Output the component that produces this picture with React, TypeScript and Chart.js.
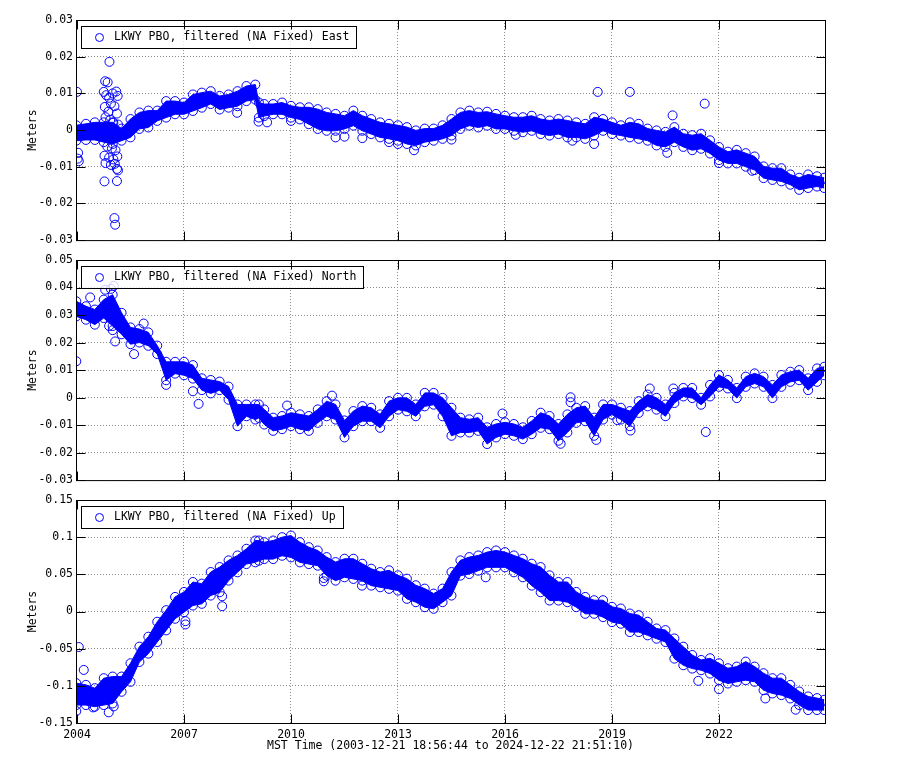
import React, { useEffect, useRef } from "react";
import { Chart, registerables } from "chart.js";

Chart.register(...registerables);

// ---------------- data ----------------
const X_MIN = 2003.972; // 2003-12-21 18:56:44
const X_MAX = 2024.973; // 2024-12-22 21:51:10
const X_TICKS = [2004, 2007, 2010, 2013, 2016, 2019, 2022];
const X_TITLE = "MST Time (2003-12-21 18:56:44 to 2024-12-22 21:51:10)";
const Y_TITLE = "Meters";

const YEARS = [
  2003.98, 2004.25, 2004.5, 2004.75, 2005.0, 2005.25, 2005.5, 2005.75,
  2006.0, 2006.25, 2006.5, 2006.75, 2007.0, 2007.25, 2007.5, 2007.75,
  2008.0, 2008.25, 2008.5, 2008.75, 2009.0, 2009.1, 2009.25, 2009.5, 2009.75,
  2010.0, 2010.25, 2010.5, 2010.75, 2011.0, 2011.25, 2011.5, 2011.75,
  2012.0, 2012.25, 2012.5, 2012.75, 2013.0, 2013.25, 2013.5, 2013.75,
  2014.0, 2014.25, 2014.5, 2014.75, 2015.0, 2015.25, 2015.5, 2015.75,
  2016.0, 2016.25, 2016.5, 2016.75, 2017.0, 2017.25, 2017.5, 2017.75,
  2018.0, 2018.25, 2018.5, 2018.75, 2019.0, 2019.25, 2019.5, 2019.75,
  2020.0, 2020.25, 2020.5, 2020.75, 2021.0, 2021.25, 2021.5, 2021.75,
  2022.0, 2022.25, 2022.5, 2022.75, 2023.0, 2023.25, 2023.5, 2023.75,
  2024.0, 2024.25, 2024.5, 2024.75, 2024.95,
];

// East: upper / lower edge of the dense band (m)
const EAST_HI = [
  0.0013, 0.0017, 0.0021, 0.0021, 0.0021, 0.0004, 0.003, 0.0048,
  0.0053, 0.0053, 0.0079, 0.0079, 0.0075, 0.0097, 0.0102, 0.0106,
  0.0093, 0.0097, 0.0106, 0.012, 0.0124, 0.0075, 0.0071, 0.0071, 0.0075,
  0.0066, 0.0062, 0.0062, 0.0057, 0.0048, 0.0044, 0.0039, 0.0053,
  0.0039, 0.003, 0.0021, 0.0017, 0.0013, 0.0008, -0.0001, 0.0004,
  0.0004, 0.0013, 0.003, 0.0048, 0.0053, 0.0048, 0.005, 0.0044,
  0.0039, 0.0035, 0.0035, 0.0039, 0.003, 0.0026, 0.003, 0.0026,
  0.0021, 0.0017, 0.0035, 0.003, 0.0021, 0.0013, 0.0021, 0.0017,
  0.0004, -0.0001, -0.0005, 0.0008, -0.001, -0.0014, -0.001, -0.0028,
  -0.0046, -0.0059, -0.0054, -0.0063, -0.0072, -0.0099, -0.0104, -0.0104,
  -0.0121, -0.013, -0.0121, -0.0126, -0.013,
];
const EAST_LO = [
  -0.0029, -0.0027, -0.0027, -0.0033, -0.0038, -0.0029, -0.002, 0.0003,
  0.0007, 0.0025, 0.0034, 0.0043, 0.0043, 0.0052, 0.0061, 0.0071,
  0.0056, 0.0061, 0.0065, 0.0079, 0.0083, 0.0034, 0.0038, 0.0043, 0.0043,
  0.0034, 0.0029, 0.0016, 0.0003, -0.0002, -0.0002, 0.0003, 0.0012,
  -0.0002, -0.0011, -0.002, -0.0024, -0.0029, -0.0038, -0.0042, -0.0033,
  -0.0029, -0.0024, -0.0015, 0.0003, 0.0012, 0.0007, 0.0012, 0.0003,
  0.0003, -0.0002, -0.0006, -0.0002, -0.0011, -0.0015, -0.0011, -0.002,
  -0.002, -0.0024, -0.0015, -0.0002, -0.0011, -0.0015, -0.002, -0.0024,
  -0.0029, -0.0042, -0.0046, -0.0033, -0.0046, -0.0055, -0.0051, -0.0064,
  -0.0082, -0.0091, -0.0091, -0.01, -0.0109, -0.0131, -0.0136, -0.014,
  -0.0149, -0.0163, -0.0158, -0.0154, -0.0158,
];
const EAST_OUT_T = [
  2004.0, 2004.03, 2004.02, 2004.05, 2004.91, 2004.79, 2004.86, 2004.75, 2004.82,
  2004.9, 2005.0, 2005.1, 2005.14, 2004.95, 2005.05, 2004.78, 2004.88, 2005.12,
  2004.8, 2004.93, 2005.02, 2005.15, 2004.85, 2004.98, 2005.08, 2004.77, 2004.9,
  2005.02, 2005.13, 2004.8, 2004.95, 2005.06, 2005.12, 2005.15, 2004.77, 2005.12,
  2005.05, 2005.07, 2008.49, 2009.09, 2009.33, 2010.0, 2011.25, 2011.5, 2012.0,
  2012.75, 2013.0, 2013.45, 2014.5, 2016.3, 2017.89, 2018.5, 2018.6, 2019.5,
  2020.55, 2020.7, 2021.6, 2022.0, 2022.93,
];
const EAST_OUT_V = [
  0.0104, -0.0062, -0.0078, -0.0085, 0.0186, 0.0133, 0.013, 0.0104, 0.0095,
  0.0088, 0.01, 0.0105, 0.0093, 0.0072, 0.0065, 0.0063, 0.005, 0.0045,
  0.0035, 0.0028, 0.002, 0.0015, -0.0045, -0.005, -0.0055, -0.007, -0.0075,
  -0.008, -0.0072, -0.009, -0.0095, -0.0092, -0.0106, -0.011, -0.014, -0.0139,
  -0.024, -0.0258, 0.0047, 0.0023, 0.0021, 0.0025, -0.002, -0.0018, -0.0022,
  -0.0033, -0.0038, -0.0055, -0.0026, -0.0013, -0.0029, -0.0038, 0.0104, 0.0104,
  -0.0062, 0.004, 0.0072, -0.009, -0.0111,
];

// North
const NORTH_HI = [
  0.035, 0.0332, 0.032, 0.0356, 0.0374, 0.0308, 0.0255, 0.0249,
  0.0237, 0.0189, 0.013, 0.013, 0.013, 0.0118, 0.007, 0.0064,
  0.0058, 0.004, -0.0025, -0.0025, -0.0025, -0.0025, -0.0043, -0.0073, -0.0067,
  -0.0055, -0.0061, -0.0067, -0.0043, -0.0013, -0.0025, -0.0083, -0.0049,
  -0.0031, -0.0037, -0.0061, -0.0013, -0.0001, -0.0001, -0.0025, 0.0017,
  0.0017, -0.0001, -0.0037, -0.0073, -0.0079, -0.0073, -0.0108, -0.0096,
  -0.009, -0.0096, -0.0108, -0.0085, -0.0055, -0.0067, -0.0096, -0.0061,
  -0.0037, -0.0031, -0.0073, -0.0025, -0.0025, -0.0037, -0.0049, -0.0013,
  0.0011, -0.0001, -0.0025, 0.0017, 0.0035, 0.0035, -0.0001, 0.0046,
  0.0082, 0.0064, 0.0035, 0.0076, 0.0088, 0.0076, 0.0046, 0.0082,
  0.0094, 0.01, 0.007, 0.0106, 0.0112,
];
const NORTH_LO = [
  0.0295, 0.0283, 0.0265, 0.0289, 0.026, 0.023, 0.0194, 0.02,
  0.0188, 0.0158, 0.0063, 0.0087, 0.0081, 0.0069, 0.0027, 0.0015,
  0.0027, -0.0008, -0.0104, -0.0068, -0.008, -0.0074, -0.0098, -0.0121, -0.0115,
  -0.0104, -0.0115, -0.0121, -0.0092, -0.0068, -0.008, -0.0145, -0.0104,
  -0.0086, -0.0086, -0.011, -0.0068, -0.0044, -0.005, -0.0068, -0.0032,
  -0.0026, -0.0068, -0.0139, -0.0127, -0.0127, -0.0121, -0.0169, -0.0145,
  -0.0133, -0.0139, -0.0151, -0.0133, -0.011, -0.0115, -0.0157, -0.0127,
  -0.0092, -0.0086, -0.0139, -0.008, -0.0062, -0.008, -0.0104, -0.0056,
  -0.0032, -0.0044, -0.0068, -0.002, 0.0004, -0.0002, -0.0026, 0.0004,
  0.0039, 0.0033, -0.0002, 0.0039, 0.0051, 0.0039, -0.0002, 0.0039,
  0.0057, 0.0063, 0.0027, 0.0057, 0.0081,
];
const NORTH_OUT_T = [
  2003.98, 2004.37, 2004.79, 2005.03, 2004.95, 2005.07, 2005.0, 2004.9, 2005.6,
  2005.87, 2006.5, 2007.25, 2007.41, 2009.89, 2011.15, 2015.93, 2017.56, 2017.84,
  2017.84, 2018.56, 2019.15, 2019.52, 2020.06, 2020.72, 2021.63,
];
const NORTH_OUT_V = [
  0.0132, 0.0364, 0.0392, 0.0406, 0.0395, 0.0204, 0.0245, 0.026, 0.0158,
  0.0269, 0.0046, 0.0023, -0.0023, -0.0029, 0.0007, -0.0058, -0.0168, 0.0001,
  -0.0017, -0.0154, -0.0082, -0.012, 0.0033, 0.0033, -0.0125,
];

// Up
const UP_HI = [
  -0.0964, -0.0987, -0.1031, -0.0897, -0.0875, -0.0875, -0.0696, -0.0473,
  -0.0339, -0.0138, 0.0018, 0.0196, 0.0263, 0.0397, 0.0375, 0.0531,
  0.0598, 0.0688, 0.0754, 0.0844, 0.0955, 0.0955, 0.0933, 0.0955, 0.1,
  0.1022, 0.0933, 0.0866, 0.0821, 0.0732, 0.0665, 0.071, 0.071,
  0.0643, 0.0576, 0.0531, 0.0554, 0.0487, 0.0442, 0.0353, 0.0308,
  0.0241, 0.0308, 0.0531, 0.0688, 0.0732, 0.0754, 0.0799, 0.0821,
  0.0799, 0.0754, 0.071, 0.0643, 0.0598, 0.0487, 0.0397, 0.0397,
  0.0263, 0.0196, 0.0152, 0.0152, 0.0063, 0.004, -0.0027, -0.0049,
  -0.0138, -0.0228, -0.025, -0.0362, -0.0473, -0.0585, -0.0652, -0.0629,
  -0.0696, -0.0763, -0.0741, -0.0674, -0.0741, -0.083, -0.0897, -0.0897,
  -0.0987, -0.1076, -0.1143, -0.1165, -0.1188,
];
const UP_LO = [
  -0.1259, -0.1259, -0.1281, -0.1259, -0.1237, -0.108, -0.0946, -0.0679,
  -0.0567, -0.0411, -0.0254, -0.0098, -0.0009, 0.008, 0.0103, 0.0214,
  0.0259, 0.0415, 0.0527, 0.0638, 0.0661, 0.0683, 0.0705, 0.0705, 0.075,
  0.0728, 0.0661, 0.0638, 0.0616, 0.0482, 0.0415, 0.046, 0.0438,
  0.0415, 0.0348, 0.0326, 0.0304, 0.0281, 0.017, 0.0125, 0.0058,
  0.0036, 0.0125, 0.0214, 0.0482, 0.0504, 0.0549, 0.0594, 0.0594,
  0.0594, 0.0527, 0.046, 0.0348, 0.0259, 0.0147, 0.0147, 0.0125,
  0.0058, -0.0031, -0.0031, -0.0076, -0.0143, -0.0165, -0.0277, -0.0277,
  -0.0321, -0.0366, -0.0411, -0.0634, -0.0723, -0.0768, -0.079, -0.0835,
  -0.0924, -0.0969, -0.0946, -0.0924, -0.0946, -0.1058, -0.1103, -0.1125,
  -0.117, -0.1259, -0.1326, -0.1326, -0.1326,
];
const UP_OUT_T = [
  2004.05, 2004.19, 2004.89, 2003.98, 2004.45, 2005.03, 2007.04, 2007.04, 2008.07,
  2008.07, 2010.92, 2010.92, 2011.99, 2015.46, 2021.42, 2022.0, 2023.3, 2024.15,
];
const UP_OUT_V = [
  -0.0478, -0.0786, -0.1357, -0.134, -0.129, -0.1277, -0.0174, -0.013, 0.0071,
  0.0205, 0.0406, 0.045, 0.0348, 0.046, -0.0933, -0.1045, -0.117, -0.1321,
];

// ---------------- styling ----------------
const FONT_FAMILY = "'DejaVu Sans Mono', monospace";
const FONT_SIZE = 11.5;
const BLUE = "rgb(0,0,255)";
const POINT_R = 4.5;

type PanelCfg = {
  label: string;
  hi: number[];
  lo: number[];
  outT: number[];
  outV: number[];
  yMin: number;
  yMax: number;
  yStep: number;
  top: number;
  height: number;
  padTop: number;
  showX: boolean;
};

const PANELS: PanelCfg[] = [
  { label: "LKWY PBO, filtered (NA Fixed) East", hi: EAST_HI, lo: EAST_LO, outT: EAST_OUT_T, outV: EAST_OUT_V, yMin: -0.03, yMax: 0.03, yStep: 0.01, top: 0, height: 250, padTop: 20, showX: false },
  { label: "LKWY PBO, filtered (NA Fixed) North", hi: NORTH_HI, lo: NORTH_LO, outT: NORTH_OUT_T, outV: NORTH_OUT_V, yMin: -0.03, yMax: 0.05, yStep: 0.01, top: 250, height: 240, padTop: 10, showX: false },
  { label: "LKWY PBO, filtered (NA Fixed) Up", hi: UP_HI, lo: UP_LO, outT: UP_OUT_T, outV: UP_OUT_V, yMin: -0.15, yMax: 0.15, yStep: 0.05, top: 490, height: 290, padTop: 10, showX: true },
];

const legendBoxPlugin = (label: string) => ({
  id: "legendBox",
  afterDatasetsDraw(chart: any) {
    const { ctx, chartArea: a } = chart;
    ctx.save();
    ctx.font = `${FONT_SIZE}px ${FONT_FAMILY}`;
    const x0 = Math.round(a.left + 5);
    const y0 = Math.round(a.top + 6);
    const textX = a.left + 38;
    const w = Math.round(textX + ctx.measureText(label).width + 7 - x0);
    const h = 22;
    ctx.fillStyle = "rgba(255,255,255,0.8)";
    ctx.fillRect(x0, y0, w, h);
    ctx.strokeStyle = "#000";
    ctx.lineWidth = 1;
    ctx.strokeRect(x0 + 0.5, y0 + 0.5, w, h);
    ctx.beginPath();
    ctx.arc(a.left + 23.5, y0 + 11.5, 4, 0, Math.PI * 2);
    ctx.strokeStyle = BLUE;
    ctx.stroke();
    ctx.fillStyle = "#000";
    ctx.textBaseline = "middle";
    ctx.textAlign = "left";
    ctx.fillText(label, textX, y0 + 11.5);
    ctx.restore();
  },
});

const framePlugin = {
  id: "frameTicks",
  afterDraw(chart: any) {
    const { ctx, chartArea: a, scales } = chart;
    ctx.save();
    ctx.strokeStyle = "#000";
    ctx.lineWidth = 1;
    const L = a.left + 0.5, R = a.right + 0.5, T = a.top + 0.5, B = a.bottom + 0.5;
    ctx.strokeRect(L, T, R - L, B - T);
    const len = 9;
    ctx.beginPath();
    scales.x.ticks.forEach((t: any) => {
      const px = Math.round(scales.x.getPixelForValue(t.value)) + 0.5;
      ctx.moveTo(px, B); ctx.lineTo(px, B - len);
      ctx.moveTo(px, T); ctx.lineTo(px, T + len);
    });
    scales.y.ticks.forEach((t: any) => {
      const py = Math.round(scales.y.getPixelForValue(t.value)) + 0.5;
      ctx.moveTo(L, py); ctx.lineTo(L + len, py);
      ctx.moveTo(R, py); ctx.lineTo(R - len, py);
    });
    ctx.stroke();
    ctx.restore();
  },
};

function Panel({ cfg }: { cfg: PanelCfg }) {
  const ref = useRef<HTMLCanvasElement | null>(null);
  useEffect(() => {
    const font = { family: FONT_FAMILY, size: FONT_SIZE };
    const edge = {
      showLine: true,
      borderColor: BLUE,
      borderWidth: 1,
      pointRadius: POINT_R,
      pointStyle: "circle",
      pointBorderColor: BLUE,
      pointBackgroundColor: "rgba(0,0,0,0)",
      pointBorderWidth: 1,
      tension: 0,
      clip: 0,
      order: 2,
    };
    const chart = new Chart(ref.current as HTMLCanvasElement, {
      type: "line",
      data: {
        datasets: [
          { ...edge, label: cfg.label, data: YEARS.map((x, i) => ({ x, y: cfg.hi[i] })), fill: "+1", backgroundColor: BLUE } as any,
          { ...edge, label: "lo", data: YEARS.map((x, i) => ({ x, y: cfg.lo[i] })), fill: false, backgroundColor: BLUE } as any,
          {
            label: "outliers",
            data: cfg.outT.map((x, i) => ({ x, y: cfg.outV[i] })),
            showLine: false,
            pointRadius: POINT_R,
            pointStyle: "circle",
            pointBorderColor: BLUE,
            pointBackgroundColor: "rgba(0,0,0,0)",
            pointBorderWidth: 1,
            clip: 0,
            order: 1,
          } as any,
        ],
      },
      options: {
        animation: false,
        responsive: false,
        maintainAspectRatio: false,
        events: [],
        layout: { padding: { left: 0, right: 75, top: cfg.padTop, bottom: 0 } },
        plugins: { legend: { display: false }, tooltip: { enabled: false } },
        scales: {
          x: {
            type: "linear",
            min: X_MIN,
            max: X_MAX,
            afterBuildTicks: (s: any) => {
              s.ticks = X_TICKS.map((v) => ({ value: v }));
            },
            afterFit: (s: any) => {
              s.height = cfg.showX ? 57 : 7;
            },
            grid: { color: "#8c8c8c", drawTicks: false, lineWidth: 1 },
            border: { display: false, dash: [1, 2] },
            ticks: {
              display: cfg.showX,
              color: "#000",
              font,
              padding: 5,
              maxRotation: 0,
              autoSkip: false,
              callback: (v: any) => String(v),
            },
            title: {
              display: cfg.showX,
              text: X_TITLE,
              color: "#000",
              font,
              padding: { top: 0, bottom: 27 },
            },
          },
          y: {
            type: "linear",
            min: cfg.yMin,
            max: cfg.yMax,
            afterFit: (s: any) => {
              s.width = 76;
            },
            grid: { color: "#8c8c8c", drawTicks: false, lineWidth: 1 },
            border: { display: false, dash: [1, 2] },
            ticks: {
              stepSize: cfg.yStep,
              color: "#000",
              font,
              padding: 3,
              callback: (v: any) => String(Number(Number(v).toFixed(3))),
            },
            title: {
              display: true,
              text: Y_TITLE,
              color: "#000",
              font,
              padding: { top: 26.5, bottom: 0 },
            },
          },
        },
      } as any,
      plugins: [legendBoxPlugin(cfg.label), framePlugin],
    });
    return () => chart.destroy();
  }, [cfg]);
  return (
    <canvas
      ref={ref}
      width={900}
      height={cfg.height}
      style={{ position: "absolute", left: 0, top: cfg.top, width: 900, height: cfg.height, display: "block" }}
    />
  );
}

export default function App() {
  return (
    <div style={{ position: "absolute", left: 0, top: 0, width: 900, height: 780, background: "#fff" }}>
      {PANELS.map((p) => (
        <Panel key={p.label} cfg={p} />
      ))}
    </div>
  );
}
